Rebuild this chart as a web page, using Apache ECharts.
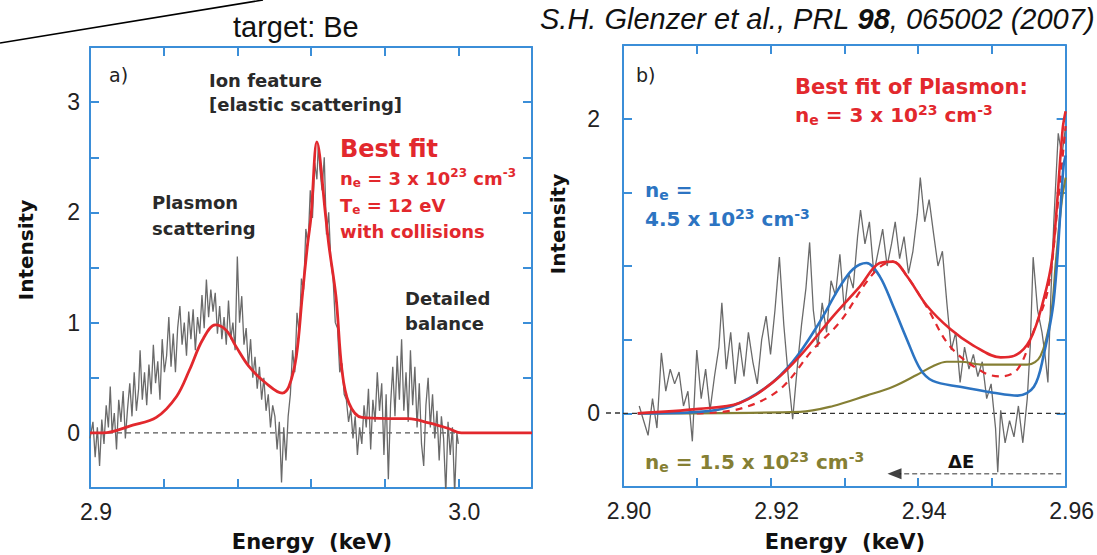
<!DOCTYPE html>
<html><head><meta charset="utf-8">
<script src="https://cdn.jsdelivr.net/npm/echarts@6/dist/echarts.min.js"></script>
<style>html,body{margin:0;padding:0;background:#fff}#c{width:1097px;height:555px}</style>
</head><body><div id="c"></div>
<script>
// ---------- DATA ----------
// Panel a: measured spectrum [energy keV, intensity]
const measuredA = [
[2.9000,-0.05],[2.9008,0.10],[2.9014,-0.22],[2.9020,0.05],[2.9026,-0.30],[2.9032,0.12],[2.9038,-0.10],[2.9044,0.25],
[2.9050,0.05],[2.9055,0.42],[2.9060,0.00],[2.9066,0.18],[2.9072,-0.15],[2.9078,0.30],[2.9084,0.10],[2.9090,0.38],
[2.9096,-0.05],[2.9102,0.22],[2.9108,0.45],[2.9114,0.15],[2.9120,0.55],[2.9126,0.20],[2.9132,0.40],[2.9136,0.75],
[2.9142,0.30],[2.9148,0.55],[2.9154,0.25],[2.9160,0.62],[2.9166,0.35],[2.9172,0.80],[2.9178,0.45],[2.9184,0.65],
[2.9190,0.30],[2.9196,0.85],[2.9202,0.55],[2.9208,0.70],[2.9214,1.05],[2.9220,0.60],[2.9226,0.90],[2.9232,0.55],
[2.9238,0.95],[2.9244,1.15],[2.9250,0.80],[2.9256,1.00],[2.9262,0.70],[2.9268,1.10],[2.9274,0.85],[2.9280,1.12],
[2.9286,0.75],[2.9292,1.05],[2.9298,0.90],[2.9304,1.25],[2.9310,0.95],[2.9316,1.39],[2.9322,1.05],[2.9328,1.30],
[2.9334,1.10],[2.9340,1.27],[2.9346,0.90],[2.9352,1.15],[2.9358,0.85],[2.9364,1.05],[2.9370,0.80],[2.9376,1.20],
[2.9382,0.85],[2.9388,1.00],[2.9394,0.75],[2.9400,1.60],[2.9406,1.00],[2.9412,1.24],[2.9418,0.80],[2.9424,0.95],
[2.9430,0.60],[2.9436,0.85],[2.9442,0.50],[2.9448,0.69],[2.9454,0.40],[2.9460,0.60],[2.9466,0.30],[2.9472,0.50],
[2.9478,0.20],[2.9484,0.35],[2.9490,0.05],[2.9496,0.25],[2.9502,0.15],[2.9508,-0.15],[2.9514,0.10],[2.9520,-0.45],
[2.9526,0.05],[2.9532,-0.25],[2.9538,0.15],[2.9544,0.35],[2.9550,0.75],[2.9556,0.55],[2.9562,1.09],[2.9568,0.90],
[2.9574,1.40],[2.9580,1.30],[2.9586,1.85],[2.9592,1.70],[2.9598,2.20],[2.9604,1.95],[2.9610,2.45],[2.9616,2.30],
[2.9620,2.62],[2.9624,2.40],[2.9630,2.20],[2.9636,2.50],[2.9642,1.80],[2.9648,2.00],[2.9654,1.55],[2.9660,1.40],
[2.9666,1.00],[2.9672,0.95],[2.9678,0.55],[2.9684,0.63],[2.9690,0.35],[2.9696,0.30],[2.9702,0.10],[2.9708,0.22],
[2.9714,-0.05],[2.9720,0.15],[2.9726,-0.20],[2.9732,0.05],[2.9738,-0.10],[2.9744,0.25],[2.9750,0.05],[2.9756,0.40],
[2.9762,-0.15],[2.9768,0.30],[2.9774,0.10],[2.9780,0.55],[2.9786,0.20],[2.9792,0.45],[2.9798,-0.20],[2.9804,0.35],
[2.9810,-0.42],[2.9816,0.25],[2.9822,0.60],[2.9828,0.15],[2.9834,0.70],[2.9840,0.30],[2.9846,0.85],[2.9852,0.20],
[2.9858,0.55],[2.9864,0.10],[2.9870,0.75],[2.9876,0.25],[2.9882,0.60],[2.9888,0.05],[2.9894,0.45],[2.9900,-0.10],
[2.9906,-0.30],[2.9912,0.25],[2.9918,0.50],[2.9924,0.05],[2.9930,0.35],[2.9936,-0.05],[2.9942,0.20],[2.9948,-0.25],
[2.9954,0.15],[2.9960,-0.05],[2.9966,-0.55],[2.9972,0.10],[2.9978,-0.20],[2.9984,0.05],[2.9990,-0.55],[2.9996,0.00],
[3.0000,-0.10]
];
// Panel a: best fit (n_e = 3e23, T_e = 12 eV, with collisions)
const bestFitA = [
[2.9000,0.00],[2.9035,0.00],[2.9116,0.07],[2.9180,0.14],[2.9235,0.33],[2.9270,0.57],[2.9305,0.84],[2.9340,0.98],
[2.9370,0.93],[2.9397,0.78],[2.9432,0.60],[2.9478,0.45],[2.9522,0.36],[2.9540,0.42],[2.9560,0.69],[2.9576,1.23],
[2.9590,1.69],[2.9600,1.96],[2.9616,2.64],[2.9640,1.96],[2.9649,1.69],[2.9668,1.23],[2.9684,0.57],[2.9703,0.27],
[2.9738,0.14],[2.9810,0.13],[2.9865,0.13],[2.9920,0.09],[2.9973,0.04],[3.0008,0.00],[3.0200,0.00]
];
// Panel b: measured spectrum (zoom on plasmon)
const measuredB = [
[2.9022,0.05],[2.9028,-0.05],[2.9034,-0.15],[2.9040,0.10],[2.9046,-0.10],[2.9052,0.41],[2.9058,0.15],[2.9064,0.30],
[2.9070,0.20],[2.9076,0.28],[2.9082,0.05],[2.9088,0.15],[2.9094,-0.19],[2.9100,0.43],[2.9106,0.10],[2.9112,0.30],
[2.9118,0.02],[2.9124,0.25],[2.9130,0.45],[2.9134,0.75],[2.9140,0.30],[2.9146,0.55],[2.9152,0.20],[2.9158,0.48],
[2.9164,0.25],[2.9170,0.55],[2.9176,0.35],[2.9182,0.20],[2.9188,0.50],[2.9194,0.66],[2.9200,0.40],[2.9206,0.70],
[2.9212,1.06],[2.9218,0.60],[2.9224,0.25],[2.9230,-0.04],[2.9236,0.30],[2.9242,0.60],[2.9248,0.85],[2.9253,1.16],
[2.9258,0.70],[2.9264,0.45],[2.9270,0.75],[2.9276,0.55],[2.9282,0.90],[2.9288,0.80],[2.9294,1.08],[2.9300,0.70],
[2.9306,0.95],[2.9312,0.85],[2.9318,1.20],[2.9322,1.38],[2.9328,1.15],[2.9334,1.30],[2.9340,0.95],[2.9346,1.10],
[2.9352,1.25],[2.9358,1.00],[2.9364,1.15],[2.9369,1.30],[2.9375,1.05],[2.9381,1.20],[2.9387,0.95],[2.9393,1.10],
[2.9399,1.35],[2.9403,1.60],[2.9409,1.30],[2.9415,1.45],[2.9421,1.22],[2.9427,1.00],[2.9433,1.10],[2.9439,0.75],
[2.9445,0.43],[2.9451,0.55],[2.9457,0.21],[2.9463,0.45],[2.9469,0.30],[2.9475,0.40],[2.9481,0.25],[2.9487,0.35],
[2.9493,0.10],[2.9499,0.20],[2.9505,-0.10],[2.9508,-0.40],[2.9512,0.02],[2.9518,-0.20],[2.9524,-0.05],[2.9530,-0.16],
[2.9536,0.05],[2.9542,-0.20],[2.9548,0.10],[2.9552,0.45],[2.9556,1.06],[2.9562,0.70],[2.9568,0.55],[2.9572,0.40],
[2.9576,0.21],[2.9580,0.80],[2.9584,1.30],[2.9590,1.90],[2.9595,1.75],[2.9600,1.95]
];
// Panel b: model curves
const fitNe3 = [
[2.9020,0.00],[2.9103,0.03],[2.9158,0.07],[2.9203,0.21],[2.9240,0.39],[2.9285,0.66],[2.9321,0.86],[2.9348,1.02],
[2.9366,1.03],[2.9385,0.93],[2.9412,0.73],[2.9444,0.57],[2.9475,0.46],[2.9512,0.38],[2.9530,0.39],[2.9552,0.50],
[2.9570,0.77],[2.9582,1.06],[2.9596,1.93],[2.9600,2.05]
];
const fitNe3Dashed = [
[2.9100,0.00],[2.9158,0.03],[2.9212,0.16],[2.9257,0.43],[2.9294,0.62],[2.9330,0.89],[2.9350,1.00],[2.9366,1.03],
[2.9385,0.93],[2.9412,0.72],[2.9444,0.45],[2.9488,0.28],[2.9512,0.25],[2.9535,0.30],[2.9556,0.55],[2.9576,0.84],
[2.9590,1.45],[2.9600,1.95]
];
const fitNe45 = [
[2.9020,0.00],[2.9103,0.01],[2.9148,0.05],[2.9195,0.18],[2.9230,0.35],[2.9263,0.59],[2.9294,0.86],[2.9312,0.98],
[2.9330,1.02],[2.9348,0.93],[2.9366,0.73],[2.9385,0.50],[2.9403,0.30],[2.9420,0.22],[2.9457,0.18],[2.9502,0.14],
[2.9535,0.12],[2.9557,0.18],[2.9570,0.39],[2.9584,0.77],[2.9597,1.67],[2.9600,1.75]
];
const fitNe15 = [
[2.9020,0.00],[2.9240,0.01],[2.9285,0.05],[2.9330,0.12],[2.9366,0.18],[2.9398,0.26],[2.9420,0.32],[2.9439,0.35],
[2.9457,0.35],[2.9488,0.33],[2.9548,0.33],[2.9566,0.39],[2.9580,0.66],[2.9587,1.04],[2.9595,1.45],[2.9600,1.60]
];
const baselineA = [[2.9000,0],[3.0200,0]];
const baselineB = [[2.9000,0],[2.9600,0]];
const deltaEArrow = [[2.9594,-0.41],[2.9375,-0.41]];
const deltaEHead = [[2.9368,-0.41]];
const xLabelsA = ['2.9','3.0'];
const yLabelsA = ['0','1','2','3'];
const xLabelsB = ['2.90','2.92','2.94','2.96'];
const yLabelsB = ['0','2'];

// ---------- STYLE ----------
const FRAME = '#3b8ed8';
const RED = '#e2282d', BLUE = '#2c74c2', OLIVE = '#857f34', GRAY = '#6a6a6a';
const SANS = '"Liberation Sans", Arial, Helvetica, sans-serif';
const DV = '"DejaVu Sans", "Liberation Sans", sans-serif';

function fmtLabel(list) {
  return function (v) {
    for (const l of list) { if (Math.abs(parseFloat(l) - v) < 1e-6) return l; }
    return '';
  };
}
function axisBase(grid, pos, min, max, interval, labels, labelMargin, padding) {
  return {
    type: 'value', gridIndex: grid, position: pos, min: min, max: max, interval: interval,
    axisLine: { show: true, onZero: false, lineStyle: { color: FRAME, width: 2 } },
    axisTick: { show: true, inside: true, length: 9, lineStyle: { color: FRAME, width: 2 } },
    splitLine: { show: false },
    axisLabel: labels ? {
      show: true, formatter: fmtLabel(labels), color: '#222', fontSize: 23, fontFamily: SANS,
      margin: labelMargin, showMinLabel: true, showMaxLabel: true, padding: padding || 0
    } : { show: false }
  };
}

function rt(segs, color, fs) {
  const base = { fontSize: fs, fontWeight: 'bold', fontFamily: DV, fill: color, color: color };
  const rich = {
    n: Object.assign({}, base),
    sub: Object.assign({}, base, { fontSize: Math.round(fs * 0.68), padding: [Math.round(fs * 0.5), 0, 0, 0] }),
    sup: Object.assign({}, base, { fontSize: Math.round(fs * 0.68), padding: [0, 0, Math.round(fs * 0.55), 0] })
  };
  return { text: segs.map(s => '{' + s[1] + '|' + s[0] + '}').join(''), rich: rich };
}
function txt(x, y, text, opts) {
  opts = opts || {};
  return {
    type: 'text', x: x, y: y, rotation: opts.rotation || 0, z: 100,
    style: {
      text: text, fill: opts.color || '#222', font: opts.font,
      textAlign: opts.align || 'left', textVerticalAlign: 'middle'
    }
  };
}
function richTxt(x, y, segs, color, fs) {
  const r = rt(segs, color, fs);
  return { type: 'text', x: x, y: y, z: 100,
    style: { text: r.text, rich: r.rich, fill: color, textAlign: 'left', textVerticalAlign: 'middle',
      fontSize: fs, fontWeight: 'bold', fontFamily: DV } };
}
const neSeg = (rest) => [['n','n'],['e','sub']].concat(rest);

const chart = echarts.init(document.getElementById('c'), null, { renderer: 'svg', width: 1097, height: 555 });

const option = {
  backgroundColor: '#ffffff',
  animation: false,
  grid: [
    { left: 90, top: 47, width: 442, height: 441 },
    { left: 623, top: 45, width: 443, height: 442 }
  ],
  xAxis: [
    axisBase(0, 'bottom', 2.9, 3.02, 0.02, xLabelsA, 12, [0, 0, 0, 12]),
    axisBase(0, 'top', 2.9, 3.02, 0.02, null),
    axisBase(1, 'bottom', 2.90, 2.96, 0.01, xLabelsB, 12, [0, 0, 0, 12]),
    axisBase(1, 'top', 2.90, 2.96, 0.01, null)
  ],
  yAxis: [
    axisBase(0, 'left', -0.5, 3.5, 0.5, yLabelsA, 10),
    axisBase(0, 'right', -0.5, 3.5, 0.5, null),
    axisBase(1, 'left', -0.5, 2.5, 0.5, yLabelsB, 23),
    axisBase(1, 'right', -0.5, 2.5, 0.5, null)
  ],
  series: [
    { type: 'line', xAxisIndex: 0, yAxisIndex: 0, data: baselineA, symbol: 'none', silent: true,
      lineStyle: { color: '#555', width: 1.3, type: [5, 4] }, z: 1 },
    { type: 'line', xAxisIndex: 0, yAxisIndex: 0, data: measuredA, symbol: 'none',
      lineStyle: { color: GRAY, width: 1.3 }, z: 2 },
    { type: 'line', xAxisIndex: 0, yAxisIndex: 0, data: bestFitA, symbol: 'none', smooth: 0.35,
      lineStyle: { color: RED, width: 2.8 }, z: 3 },

    { type: 'line', xAxisIndex: 2, yAxisIndex: 2, data: baselineB, symbol: 'none', silent: true,
      lineStyle: { color: '#333', width: 1.3, type: [5, 4] }, z: 1 },
    { type: 'line', xAxisIndex: 2, yAxisIndex: 2, data: measuredB, symbol: 'none',
      lineStyle: { color: GRAY, width: 1.3 }, z: 2 },
    { type: 'line', xAxisIndex: 2, yAxisIndex: 2, data: fitNe15, symbol: 'none', smooth: 0.35,
      lineStyle: { color: OLIVE, width: 2.2 }, z: 3 },
    { type: 'line', xAxisIndex: 2, yAxisIndex: 2, data: fitNe3Dashed, symbol: 'none', smooth: 0.35,
      lineStyle: { color: RED, width: 2.2, type: [7, 6] }, z: 3 },
    { type: 'line', xAxisIndex: 2, yAxisIndex: 2, data: fitNe45, symbol: 'none', smooth: 0.35,
      lineStyle: { color: BLUE, width: 2.6 }, z: 4 },
    { type: 'line', xAxisIndex: 2, yAxisIndex: 2, data: fitNe3, symbol: 'none', smooth: 0.35,
      lineStyle: { color: RED, width: 2.6 }, z: 5 },
    { type: 'line', xAxisIndex: 2, yAxisIndex: 2, data: deltaEArrow, symbol: 'none', silent: true,
      lineStyle: { color: '#777', width: 1.4, type: [5, 3] }, z: 6 },
    { type: 'scatter', xAxisIndex: 2, yAxisIndex: 2, data: deltaEHead, symbol: 'triangle',
      symbolSize: [11, 14], symbolRotate: 90, silent: true, itemStyle: { color: '#111' }, z: 7 }
  ],
  graphic: [
    { type: 'line', shape: { x1: 0, y1: 43, x2: 263, y2: 0 }, style: { stroke: '#000', lineWidth: 1.6 } },
    { type: 'line', shape: { x1: 606, y1: 413, x2: 622, y2: 413 }, style: { stroke: '#333', lineWidth: 1.3, lineDash: [5, 4] } },
    txt(233, 27, 'target: Be', { font: '29px ' + SANS, color: '#111' }),
    { type: 'text', x: 540, y: 19, z: 100, style: {
        text: '{i|S.H. Glenzer et al., PRL }{b|98}{i|, 065002 (2007)}',
        textAlign: 'left', textVerticalAlign: 'middle', fill: '#111',
        fontSize: 29, fontFamily: SANS, fontStyle: 'italic',
        rich: { i: { fontSize: 29, fontFamily: SANS, fontStyle: 'italic', fill: '#111' },
                b: { fontSize: 29, fontFamily: SANS, fontStyle: 'italic', fontWeight: 'bold', fill: '#111' } } } },

    // axis titles
    txt(26, 250, 'Intensity', { font: 'bold 20px ' + DV, color: '#111', rotation: Math.PI / 2, align: 'center' }),
    txt(558, 224, 'Intensity', { font: 'bold 20px ' + DV, color: '#111', rotation: Math.PI / 2, align: 'center' }),
    txt(312, 542, 'Energy  (keV)', { font: 'bold 21px ' + DV, color: '#111', align: 'center' }),
    txt(845, 542, 'Energy  (keV)', { font: 'bold 21px ' + DV, color: '#111', align: 'center' }),

    // panel a annotations
    txt(109, 75, 'a)', { font: '19px ' + DV, color: '#222' }),
    txt(209, 80, 'Ion feature', { font: 'bold 18px ' + DV, color: '#2a2a2a' }),
    txt(209, 104, '[elastic scattering]', { font: 'bold 18px ' + DV, color: '#2a2a2a' }),
    txt(340, 149, 'Best fit', { font: 'bold 24px ' + DV, color: RED }),
    richTxt(340, 178, neSeg([[' = 3 x 10','n'],['23','sup'],[' cm','n'],['-3','sup']]), RED, 18),
    richTxt(340, 205, [['T','n'],['e','sub'],[' = 12 eV','n']], RED, 18),
    txt(340, 231, 'with collisions', { font: 'bold 18px ' + DV, color: RED }),
    txt(152, 202, 'Plasmon', { font: 'bold 18px ' + DV, color: '#2a2a2a' }),
    txt(152, 228, 'scattering', { font: 'bold 18px ' + DV, color: '#2a2a2a' }),
    txt(405, 298, 'Detailed', { font: 'bold 18px ' + DV, color: '#2a2a2a' }),
    txt(405, 323, 'balance', { font: 'bold 18px ' + DV, color: '#2a2a2a' }),

    // panel b annotations
    txt(636, 75, 'b)', { font: '19px ' + DV, color: '#222' }),
    txt(795, 87, 'Best fit of Plasmon:', { font: 'bold 21px ' + DV, color: RED }),
    richTxt(795, 115, neSeg([[' = 3 x 10','n'],['23','sup'],[' cm','n'],['-3','sup']]), RED, 20),
    richTxt(645, 190, neSeg([[' =','n']]), BLUE, 20),
    richTxt(645, 219, [['4.5 x 10','n'],['23','sup'],[' cm','n'],['-3','sup']], BLUE, 20),
    richTxt(645, 462, neSeg([[' = 1.5 x 10','n'],['23','sup'],[' cm','n'],['-3','sup']]), OLIVE, 20),
    txt(948, 461, 'ΔE', { font: 'bold 18px ' + DV, color: '#111' })
  ]
};
chart.setOption(option);
</script>
</body></html>
